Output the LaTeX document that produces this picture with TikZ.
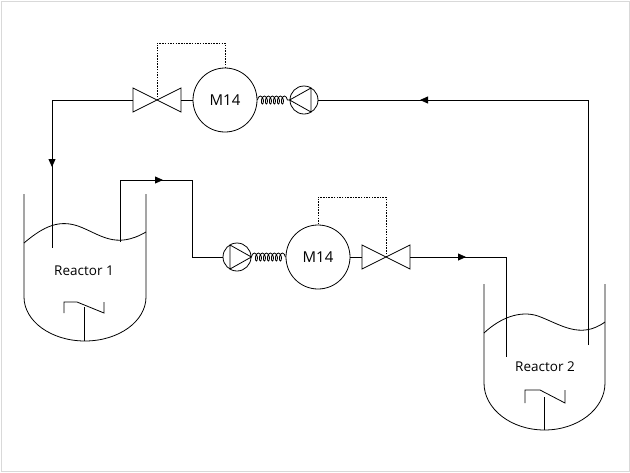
\documentclass[tikz,border=0pt]{standalone}
\usepackage{fontspec}
\setmainfont{Open Sans}
\usetikzlibrary{arrows.meta,decorations.pathmorphing}
\begin{document}
\begin{tikzpicture}[x=1pt,y=-1pt,line width=0.8pt,
  tip/.style={-{Triangle[length=8pt,width=7pt]}},
  motor/.style={circle,draw,minimum size=64pt,inner sep=0pt,font=\fontsize{15}{15}\selectfont},
  pumpc/.style={circle,draw,minimum size=28pt,inner sep=0pt},
  spring/.style={decorate,decoration={coil,aspect=0.5,segment length=4pt,amplitude=4pt}},
  sig/.style={dash pattern=on 1.5pt off 1.2pt,line width=0.8pt},
  lbl/.style={font=\fontsize{13.5}{13.5}\selectfont}]
\useasboundingbox (0,0) rectangle (630,472);
\draw[draw=gray!30,line width=1pt] (1,1) rectangle (629,471);
\newcommand{\myvalve}[2]{\draw (#1-24,#2-12) -- (#1-24,#2+12) -- (#1+24,#2-12) -- (#1+24,#2+12) -- cycle;}
% ---- top line
\node[motor] (m1) at (225,100) {M14};
\node[pumpc] (p1) at (304,100) {};
\coordinate (v1) at (157,100);
\myvalve{157}{100}
\coordinate (p1a) at (311,88); \coordinate (p1b) at (311,112);
\draw (p1a) -- (p1.west) -- (p1b) -- cycle;
\draw[spring] (m1.east) -- (p1.west);
\draw (181,100) -- (m1.west);
\coordinate (t1) at (52,100); \coordinate (t2) at (52,248);
\coordinate (r2out) at (588,345); \coordinate (c1) at (588,100);
\draw (r2out) -- (c1) -- (p1.east);
\draw (133,100) -- (t1) -- (t2);
\draw[tip] (440,100) -- (420,100);
\draw[tip] (52,150) -- (52,167);
\draw[sig] (v1) -- (157,43) -- (225,43) -- (m1.north);
% ---- bottom line
\node[motor] (m2) at (318,257) {M14};
\node[pumpc] (p2) at (237,257) {};
\coordinate (v2) at (386,257);
\myvalve{386}{257}
\draw (230,245) -- (p2.east) -- (230,269) -- cycle;
\draw[spring] (p2.east) -- (m2.west);
\draw (m2.east) -- (362,257);
\coordinate (b1) at (120,242); \coordinate (b2) at (120,180); \coordinate (b3) at (192,180);
\coordinate (b4) at (192,257);
\draw (b1) -- (b2) -- (b3) -- (b4) -- (p2.west);
\draw[tip] (145,180) -- (163,180);
\coordinate (d1) at (506,257); \coordinate (d2) at (506,357);
\draw (410,257) -- (d1) -- (d2);
\draw[tip] (450,257) -- (466,257);
\draw[sig] (v2) -- (386,197) -- (318,197) -- (m2.north);
% ---- reactor 1
\draw (24,194) -- (24,297) arc[start angle=180,end angle=0,x radius=61,y radius=44] -- (146,194);
\draw (24,243) .. controls (45,225) and (60,220) .. (78,226) .. controls (100,234) and (115,250) .. (146,232);
\node[lbl] (r1) at (84,271) {Reactor 1};
\draw (84,341) -- (84,307);
\draw (64,313) -- (64,302) -- (77,302) -- (104,313) -- (104,302);
% ---- reactor 2
\draw (484,284) -- (484,383) arc[start angle=180,end angle=0,x radius=60.5,y radius=47] -- (605,284);
\draw (484,333) .. controls (500,318) and (520,310) .. (538,316) .. controls (560,324) and (580,340) .. (605,322);
\node[lbl] (r2) at (545,367) {Reactor 2};
\draw (544,430) -- (544,397);
\draw (525,403) -- (525,390) -- (540,390) -- (565,403) -- (565,390);
\end{tikzpicture}
\end{document}
